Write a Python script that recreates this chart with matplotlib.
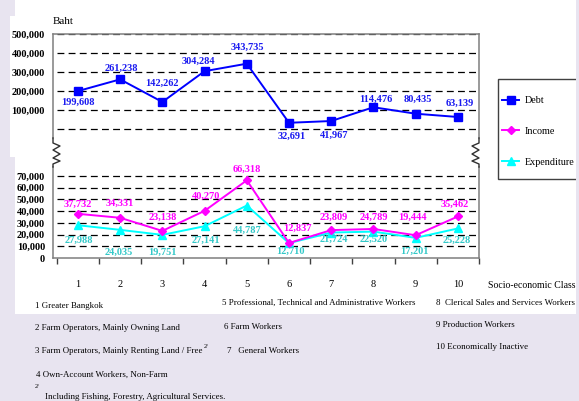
import matplotlib
matplotlib.use('Agg')
import matplotlib.pyplot as plt
from matplotlib.lines import Line2D
from matplotlib.patches import Rectangle
import numpy as np

# data (Baht per household, by socio-economic class)
classes = ['1', '2', '3', '4', '5', '6', '7', '8', '9', '10']
debt = [199608, 261238, 142262, 304284, 343735, 32691, 41967, 114476, 80435, 63139]
income = [37732, 34331, 23138, 40270, 66318, 12837, 23809, 24789, 19444, 35462]
expenditure = [27988, 24035, 19751, 27141, 44787, 12710, 21724, 22520, 17201, 25228]
top_ticks = [100000, 200000, 300000, 400000, 500000]
bottom_ticks = [0, 10000, 20000, 30000, 40000, 50000, 60000, 70000]

# label offsets (pixels) for the value labels
debt_off = [(0, -11), (1, 11), (0, 19), (-6, 10), (1, 16), (3, -14), (3, -14), (2, 8), (2, 14), (2, 14)]
inc_off = [(0, 10), (0, 14), (0, 14), (1, 15), (0, 11), (8, 15), (3, 13), (0, 12), (-3, 18), (-3, 12)]
exp_off = [(1, -15), (-1, -22), (0, -17), (1, -14), (0, -25), (1, -8), (3, -7), (0, -8), (-1, -13), (-1, -12)]

footnotes = [
    (35, 306, '1 Greater Bangkok'),
    (35, 328, '2 Farm Operators, Mainly Owning Land'),
    (36, 375, '4 Own-Account Workers, Non-Farm'),
    (45, 397, 'Including Fishing, Forestry, Agricultural Services.'),
    (222, 303, '5 Professional, Technical and Administrative Workers'),
    (224, 327, '6 Farm Workers'),
    (227, 351, '7   General Workers'),
    (436, 303, '8  Clerical Sales and Services Workers'),
    (436, 325, '9 Production Workers'),
    (436, 347, '10 Economically Inactive'),
]
note3 = '3 Farm Operators, Mainly Renting Land / Free'

plt.rcParams['font.family'] = ['Liberation Serif', 'DejaVu Serif']

W, H = 579, 401
def fx(px):
    return px / W
def fy(py):
    return 1 - py / H

LAV = '#E8E4F0'
SPINE = '#7f7f7f'
DASH = (0, (5.5, 3.4))
c_debt, c_inc, c_exp = '#0000FF', '#FF00FF', '#00FFFF'
c_debt_t, c_inc_t, c_exp_t = '#1a1aF0', '#FF00FF', '#33C8C8'

fig = plt.figure(figsize=(W / 100, H / 100), dpi=100, facecolor=LAV)
fig.add_artist(Rectangle((fx(15), fy(314)), (576 - 15) / W, 314 / H,
                         transform=fig.transFigure, facecolor='white', edgecolor='none', zorder=-2))
fig.add_artist(Rectangle((fx(10), fy(157)), 6 / W, (157 - 16) / H,
                         transform=fig.transFigure, facecolor='white', edgecolor='none', zorder=-2))

x = np.arange(1, len(classes) + 1)
left, right = 53, 479
ax1 = fig.add_axes([fx(left), fy(138), (right - left) / W, (138 - 34) / H])
ax2 = fig.add_axes([fx(left), fy(258), (right - left) / W, (258 - 167) / H])

for ax in (ax1, ax2):
    ax.set_xlim(0.41, 10.5)
    for s in ax.spines.values():
        s.set_color(SPINE)
        s.set_linewidth(1.1)
    ax.tick_params(axis='y', length=0, pad=5.8, labelsize=7.5)

ax1.set_ylim(-47400, 500000)
ax1.spines['bottom'].set_visible(False)
ax1.set_xticks([])
ax1.hlines([0] + top_ticks, 0.5, 10.5, colors='k', linestyles=DASH, lw=0.9, zorder=1)
ax1.set_yticks(top_ticks)
ax1.set_yticklabels(['{:,}'.format(v) for v in top_ticks], fontweight='bold', fontsize=7.5)

ax2.set_ylim(0, 77700)
ax2.spines['top'].set_visible(False)
ax2.hlines(bottom_ticks[1:], 0.5, 10.5, colors='k', linestyles=DASH, lw=0.9, zorder=1)
ax2.set_yticks(bottom_ticks)
ax2.set_yticklabels(['{:,}'.format(v) for v in bottom_ticks], fontweight='bold', fontsize=7.5)
ax2.set_xticks(np.arange(0.5, 11, 1))
ax2.set_xticklabels([])
ax2.tick_params(axis='x', which='major', length=4, width=1, color='#404040', direction='out')
ax2.set_xticks(x, minor=True)
ax2.set_xticklabels(classes, minor=True, fontsize=7.5)
ax2.tick_params(axis='x', which='minor', length=0, pad=16)

ax1.plot(x, debt, color=c_debt, lw=1.4, marker='s', ms=5.5, zorder=3)
ax2.plot(x, income, color=c_inc, lw=1.4, marker='D', ms=4.5, zorder=4)
ax2.plot(x, expenditure, color=c_exp, lw=1.4, marker='^', ms=6, zorder=3)

def labels(ax, vals, offs, col):
    for xi, v, (dx, dy) in zip(x, vals, offs):
        ax.annotate('{:,}'.format(v), (xi, v), xytext=(dx, dy), textcoords='offset pixels',
                    ha='center', va='center', color=col, fontsize=7.5, fontweight='bold', zorder=5)

labels(ax1, debt, debt_off, c_debt_t)
labels(ax2, income, inc_off, c_inc_t)
labels(ax2, expenditure, exp_off, c_exp_t)

# axis break zigzags
zz_y = [138, 143, 146, 150, 154, 158, 161, 164, 167]
zl = [53, 53, 60, 53, 60, 53, 60, 53, 53]
zr = [479, 479, 472, 479, 472, 479, 472, 479, 479]
fig.add_artist(Line2D([fx(v) for v in zl], [fy(v) for v in zz_y], transform=fig.transFigure, color='#303030', lw=1.0))
fig.add_artist(Line2D([fx(v) for v in zr], [fy(v) for v in zz_y], transform=fig.transFigure, color='#303030', lw=1.0))

# legend box
fig.add_artist(Rectangle((fx(498), fy(179)), 100 / W, 100 / H, transform=fig.transFigure,
                         facecolor='white', edgecolor='#404040', lw=1.0, zorder=0.5))
fig.legend([Line2D([], [], color=c_debt, lw=1.4, marker='s', ms=5.5),
            Line2D([], [], color=c_inc, lw=1.4, marker='D', ms=4),
            Line2D([], [], color=c_exp, lw=1.4, marker='^', ms=6)],
           ['Debt', 'Income', 'Expenditure'], loc='upper left', bbox_to_anchor=(fx(502), fy(96)),
           frameon=False, borderpad=0, borderaxespad=0, labelspacing=2.15, handlelength=1.7,
           handletextpad=0.55, fontsize=7.3)
fig.add_artist(Rectangle((fx(576), 0), 3 / W, 1, transform=fig.transFigure,
                         facecolor=LAV, edgecolor='none', zorder=1))

fig.text(fx(53), fy(21), 'Baht', fontsize=8, va='center', ha='left')
fig.text(fx(488), fy(285), 'Socio-economic Class', fontsize=7, va='center', ha='left')
for px, py, s in footnotes:
    fig.text(fx(px), fy(py), s, fontsize=6.4, va='center', ha='left', zorder=3)
t3 = fig.text(fx(35), fy(351), note3, fontsize=6.4, va='center', ha='left', zorder=3)
ax2.annotate('2/', xy=(1.0, 1.0), xycoords=t3, xytext=(1, 1), textcoords='offset pixels',
             fontsize=4.5, va='center', ha='left', annotation_clip=False)
fig.text(fx(35), fy(387), '2/', fontsize=4.5, va='center', ha='left')

fig.savefig('out.png', dpi=100, facecolor=LAV)
